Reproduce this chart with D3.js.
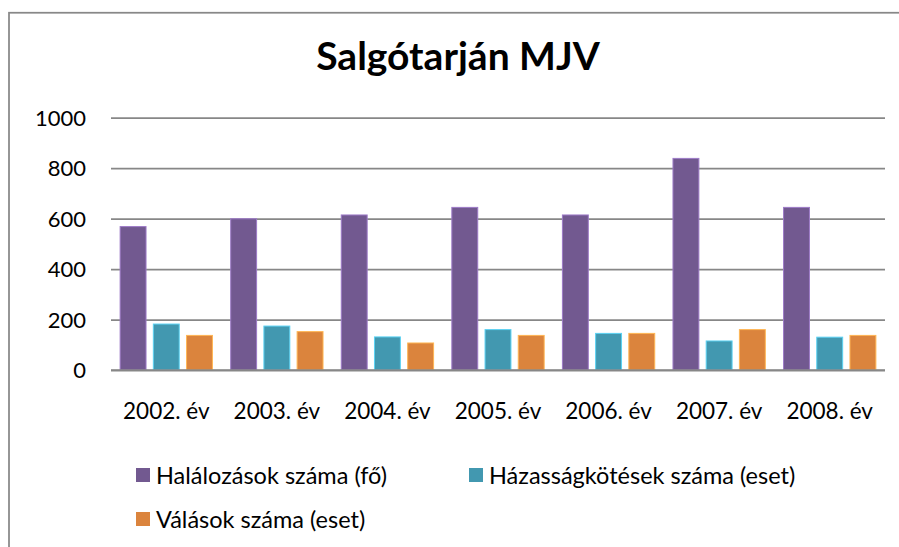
<!DOCTYPE html>
<html>
<head>
<meta charset="utf-8">
<script src="https://cdn.jsdelivr.net/npm/d3@7"></script>
<style>
  body { margin: 0; background: #fff; }
  svg { display: block; }
</style>
</head>
<body>
<div id="chart"></div>
<script>
// chart size
const width = 899;
const height = 547;
const margin = {left: 111, right: 14, top: 117.5, bottom: 177};

// data
const categories = ["2002. év", "2003. év", "2004. év", "2005. év", "2006. év", "2007. év", "2008. év"];
const halalozasok = [568, 599, 614, 644, 614, 838, 644];
const hazassagkotesek = [182, 174, 131, 160, 145, 115, 130];
const valasok = [137, 152, 107, 137, 145, 160, 137];
const seriesNames = ["Halálozások száma (fő)", "Házasságkötések száma (eset)", "Válások száma (eset)"];
const colors = ["#725990", "#4298b0", "#db843d"];
const yTicks = [0, 200, 400, 600, 800, 1000];

const seriesValues = [halalozasok, hazassagkotesek, valasok];
const rows = categories.map((c, i) => ({cat: c, vals: seriesValues.map((s, k) => ({k: k, v: s[i]}))}));

const svg = d3.select("#chart")
  .append("svg")
  .attr("width", width)
  .attr("height", height);

// outer frame (runs off the right and bottom edge)
svg.append("rect")
  .attr("x", 9)
  .attr("y", 12.75)
  .attr("width", 1000)
  .attr("height", 1000)
  .attr("fill", "none")
  .attr("stroke", "#888")
  .attr("stroke-width", 1.75);

// title
svg.append("text")
  .attr("x", 458)
  .attr("y", 70)
  .attr("text-anchor", "middle")
  .attr("font-family", "Lato, 'Open Sans', sans-serif")
  .attr("font-weight", "bold")
  .attr("font-size", "39px")
  .attr("fill", "#000")
  .text("Salgótarján MJV");

// scales
const yScale = d3.scaleLinear()
  .domain([0, 1000])
  .range([height - margin.bottom, margin.top]);

const x0 = d3.scaleBand()
  .domain(categories)
  .range([margin.left, width - margin.right])
  .paddingInner(0.165)
  .paddingOuter(0.0825);

const x1 = d3.scaleBand()
  .domain([0, 1, 2])
  .range([0, x0.bandwidth()])
  .paddingInner(0.22)
  .paddingOuter(0);

// y axis with gridlines
const yAxis = svg.append("g")
  .attr("transform", `translate(${margin.left},0)`)
  .call(d3.axisLeft(yScale)
    .tickValues(yTicks)
    .tickFormat(d3.format("d"))
    .tickSize(-(width - margin.left - margin.right))
    .tickPadding(25));
yAxis.select(".domain").remove();
yAxis.selectAll("line")
  .attr("stroke", "#878787")
  .attr("stroke-width", 1.75);
yAxis.selectAll("text")
  .attr("font-family", "Lato, 'Open Sans', sans-serif")
  .attr("font-size", "22px")
  .attr("fill", "#000")
  .attr("dy", "0.36em");

// bars
const groups = svg.selectAll(".grp")
  .data(rows)
  .enter()
  .append("g")
  .attr("class", "grp")
  .attr("transform", d => `translate(${x0(d.cat)},0)`);

groups.selectAll("rect")
  .data(d => d.vals)
  .enter()
  .append("rect")
  .attr("x", d => x1(d.k))
  .attr("y", d => yScale(d.v))
  .attr("width", x1.bandwidth())
  .attr("height", d => yScale(0) - yScale(d.v))
  .attr("fill", d => colors[d.k])
  .attr("stroke", d => d3.color(colors[d.k]).brighter(0.9))
  .attr("stroke-width", 1);

// redraw zero line over bars
svg.append("line")
  .attr("x1", margin.left)
  .attr("x2", width - margin.right)
  .attr("y1", yScale(0))
  .attr("y2", yScale(0))
  .attr("stroke", "#878787")
  .attr("stroke-width", 1.75);

// x axis labels
const xAxis = svg.append("g")
  .attr("transform", `translate(0,${yScale(0)})`)
  .call(d3.axisBottom(x0).tickSize(0));
xAxis.select(".domain").remove();
xAxis.selectAll("text")
  .attr("font-family", "Lato, 'Open Sans', sans-serif")
  .attr("font-size", "22.5px")
  .attr("fill", "#000")
  .attr("y", 49)
  .attr("dy", 0);

// legend
const legendPos = [[136, 468], [469, 468], [136, 512]];
const legend = svg.selectAll(".leg")
  .data(seriesNames)
  .enter()
  .append("g")
  .attr("class", "leg")
  .attr("transform", (d, i) => `translate(${legendPos[i][0]},${legendPos[i][1]})`);

legend.append("rect")
  .attr("width", 14)
  .attr("height", 14)
  .attr("fill", (d, i) => colors[i]);

legend.append("text")
  .attr("x", 20)
  .attr("y", 16)
  .attr("font-family", "Lato, 'Open Sans', sans-serif")
  .attr("font-size", "23.5px")
  .attr("fill", "#000")
  .text(d => d);
</script>
</body>
</html>
